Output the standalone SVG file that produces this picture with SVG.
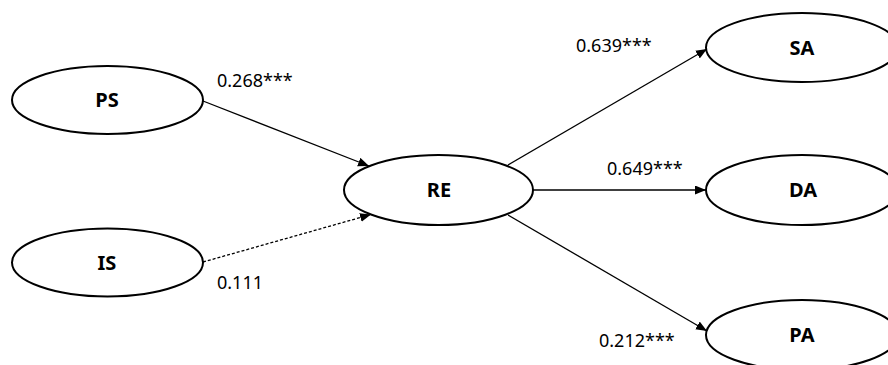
<svg xmlns="http://www.w3.org/2000/svg" width="888" height="365" viewBox="0 0 888 365">
<style>
.node ellipse{fill:#fff;stroke:#000;stroke-width:2}
.node text{font-family:"Noto Sans","Open Sans","DejaVu Sans",sans-serif;font-weight:bold;font-size:20px;text-anchor:middle;fill:#000}
.edge{stroke:#000;stroke-width:1.3;fill:none;marker-end:url(#arr)}
.dash{stroke-dasharray:3 2}
.lbl{font-family:"Noto Sans","Open Sans","DejaVu Sans",sans-serif;font-size:18px;fill:#000}
</style>
<defs>
<marker id="arr" markerUnits="userSpaceOnUse" markerWidth="12" markerHeight="10" refX="11" refY="4.5" orient="auto">
<path d="M0,0 L11,4.5 L0,9 z" fill="#000"/>
</marker>
</defs>
<rect width="888" height="365" fill="#fff"/>
<g id="connectors">
<line class="edge" x1="203" y1="101" x2="369" y2="166"/>
<line class="edge dash" x1="203" y1="262" x2="371" y2="214.5"/>
<line class="edge" x1="508" y1="165" x2="707" y2="49"/>
<line class="edge" x1="533" y1="190" x2="706" y2="190"/>
<line class="edge" x1="508" y1="215" x2="707" y2="331"/>
</g>
<g id="PS" class="node"><ellipse cx="107.5" cy="100" rx="95.5" ry="34"/><text x="107" y="107">PS</text></g>
<g id="IS" class="node"><ellipse cx="107.5" cy="262.5" rx="95.5" ry="34"/><text x="107" y="270">IS</text></g>
<g id="RE" class="node"><ellipse cx="438.5" cy="190" rx="94.5" ry="35"/><text x="439" y="197">RE</text></g>
<g id="SA" class="node"><ellipse cx="802" cy="47.5" rx="96" ry="34.5"/><text x="802" y="55">SA</text></g>
<g id="DA" class="node"><ellipse cx="802" cy="190" rx="96" ry="35"/><text x="803" y="197">DA</text></g>
<g id="PA" class="node"><ellipse cx="802" cy="335" rx="96" ry="35"/><text x="802" y="342">PA</text></g>
<g id="labels">
<text class="lbl" x="217" y="87">0.268***</text>
<text class="lbl" x="217" y="289">0.111</text>
<text class="lbl" x="576" y="52">0.639***</text>
<text class="lbl" x="607" y="175">0.649***</text>
<text class="lbl" x="599" y="347">0.212***</text>
</g>
</svg>
